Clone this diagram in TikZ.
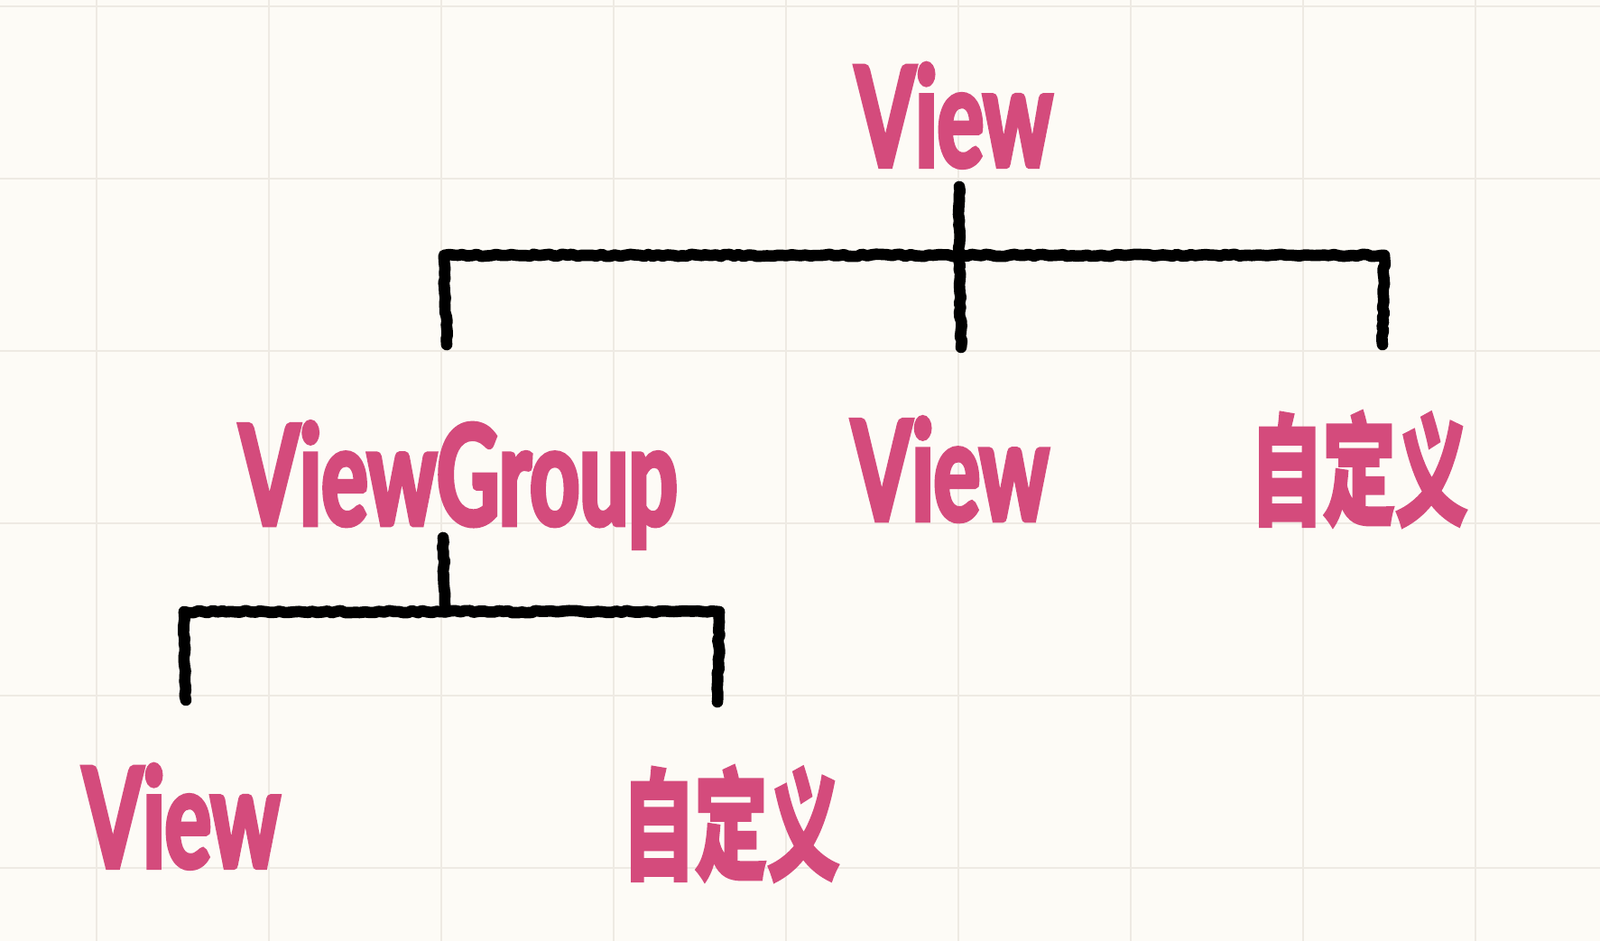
\documentclass[tikz,border=0pt]{standalone}
\usepackage{fontspec}
\setmainfont{Lato}
\newfontfamily\handfont[FakeStretch=0.62,BoldFeatures={FakeBold=3}]{Lato}
\newfontfamily\cjkhand[FakeStretch=0.6,BoldFeatures={FakeBold=2}]{Noto Sans CJK SC}
\usetikzlibrary{decorations.pathmorphing}
\definecolor{paper}{HTML}{FDFBF6}
\definecolor{gridln}{HTML}{EEEAE3}
\definecolor{ink}{HTML}{D44B7C}

\begin{document}
\begin{tikzpicture}[
  lat/.style={text=ink,inner sep=0pt,font=\handfont\bfseries\fontsize{44}{44}\selectfont},
  han/.style={text=ink,inner sep=0pt,font=\cjkhand\bfseries\fontsize{38}{38}\selectfont},
  pen/.style={draw=black,line width=3.6pt,line join=round,line cap=round,
    decorate,decoration={random steps,segment length=1.5pt,amplitude=0.35pt}},
  gridline/.style={draw=gridln,line width=0.6pt}
]

% ---- paper ----
\useasboundingbox (0,0) rectangle (17.73,10.43);
\fill[paper] (0,0) rectangle (17.73,10.43);
\foreach \x in {1.07,2.98,4.89,6.80,8.71,10.62,12.53,14.44,16.35} {
  \draw[gridline] (\x,0) -- (\x,10.43);
}
\foreach \y in {10.36,8.45,6.54,4.63,2.72,0.81} {
  \draw[gridline] (0,\y) -- (17.73,\y);
}

% ---- labels ----
\node[lat] (root) at (10.57,9.15) {View};
\node[lat,anchor=base] (grp) at (5.08,4.61) {ViewGroup};
\node[lat,anchor=base] (leafa) at (10.53,4.66) {View};
\node[han] (custa) at (15.06,5.23) {自定义};
\node[lat] (leafb) at (2.01,1.38) {View};
\node[han] (custb) at (8.10,1.30) {自定义};

% ---- upper bracket ----
\coordinate (rootstem) at (10.63,8.36);
\coordinate (topmid) at (10.63,7.60);
\coordinate (topL) at (4.92,7.60);
\coordinate (topR) at (15.34,7.60);
\coordinate (dropL) at (4.95,6.61);
\coordinate (dropM) at (10.65,6.58);
\coordinate (dropR) at (15.32,6.61);
\draw[pen] (rootstem) -- (topmid) -- (dropM);
\draw[pen] (dropL) -- (topL) -- (topR) -- (dropR);

% ---- lower bracket ----
\coordinate (grpstem) at (4.91,4.47);
\coordinate (lowmid) at (4.93,3.65);
\coordinate (lowL) at (2.04,3.65);
\coordinate (lowR) at (7.97,3.65);
\coordinate (endL) at (2.06,2.67);
\coordinate (endR) at (7.95,2.65);
\draw[pen] (grpstem) -- (lowmid);
\draw[pen] (endL) -- (lowL) -- (lowR) -- (endR);

\end{tikzpicture}
\end{document}
